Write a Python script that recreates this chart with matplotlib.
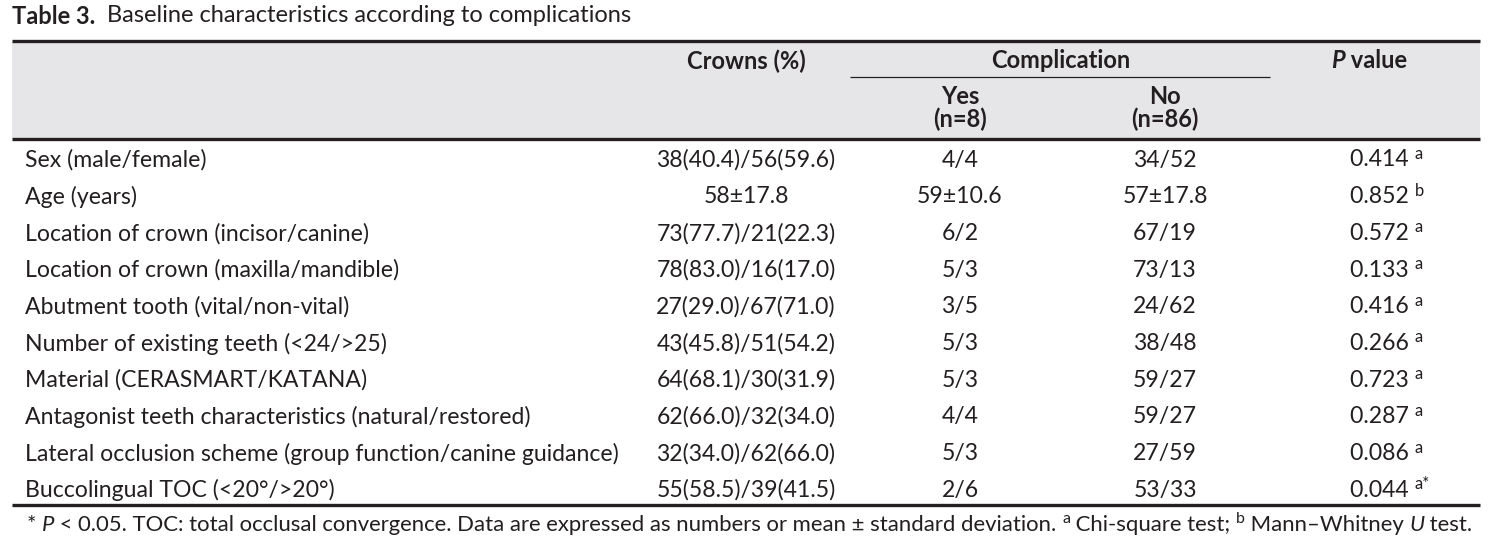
import matplotlib.pyplot as plt

FONT = ['Lato', 'DejaVu Sans']
INK = '#231f20'

title_bold = 'Table 3.'
title_text = 'Baseline characteristics according to complications'

row_labels = [
    'Sex (male/female)',
    'Age (years)',
    'Location of crown (incisor/canine)',
    'Location of crown (maxilla/mandible)',
    'Abutment tooth (vital/non-vital)',
    'Number of existing teeth (<24/>25)',
    'Material (CERASMART/KATANA)',
    'Antagonist teeth characteristics (natural/restored)',
    'Lateral occlusion scheme (group function/canine guidance)',
    'Buccolingual TOC (<20°/>20°)',
]
crowns = ['38(40.4)/56(59.6)', '58±17.8', '73(77.7)/21(22.3)', '78(83.0)/16(17.0)',
          '27(29.0)/67(71.0)', '43(45.8)/51(54.2)', '64(68.1)/30(31.9)',
          '62(66.0)/32(34.0)', '32(34.0)/62(66.0)', '55(58.5)/39(41.5)']
comp_yes = ['4/4', '59±10.6', '6/2', '5/3', '3/5', '5/3', '5/3', '4/4', '5/3', '2/6']
comp_no = ['34/52', '57±17.8', '67/19', '73/13', '24/62', '38/48', '59/27', '59/27', '27/59', '53/33']
p_values = ['0.414', '0.852', '0.572', '0.133', '0.416', '0.266', '0.723', '0.287', '0.086', '0.044']
p_marks = ['a', 'b', 'a', 'a', 'a', 'a', 'a', 'a', 'a', 'a*']

fig = plt.figure(figsize=(15, 5.41), dpi=100)
ax = fig.add_axes([0, 0, 1, 1])
ax.set_xlim(0, 1500)
ax.set_ylim(541, 0)
ax.axis('off')
renderer = fig.canvas.get_renderer()


def width_of(s, **kw):
    t = ax.text(0, 0, s, family=FONT, **kw)
    w = t.get_window_extent(renderer).width
    t.remove()
    return w


def fit(s, target, **kw):
    return 15 * target / width_of(s, fontsize=15, **kw)


body = fit(row_labels[8], 592)
bold = fit('Complication', 140, weight='bold')


def runs(x, y, pieces, ha='left'):
    # pieces: (text, size, props, raise)
    ws = [width_of(p[0], fontsize=p[1], **p[2]) for p in pieces]
    if ha == 'center':
        x -= sum(ws) / 2
    for (s, size, props, up), w in zip(pieces, ws):
        ax.text(x, y - up, s, fontsize=size, family=FONT, color=INK,
                ha='left', va='center', **props)
        x += w


# title
tsize = fit(title_text, 527)
runs(12, 16, [(title_bold, tsize, {'weight': 'bold'}, 0),
              ('  ' + title_text, tsize, {}, 0)])

# header band and rules
ax.fill_between([12, 1480], 42, 138, color='#e6e6e8', lw=0)
ax.plot([12, 1480], [41, 41], color=INK, lw=2.4, solid_capstyle='butt')
ax.plot([12, 1480], [139, 139], color=INK, lw=2.4, solid_capstyle='butt')
ax.plot([850, 1270], [77, 77], color=INK, lw=0.9, solid_capstyle='butt')
ax.plot([12, 1480], [505, 505], color=INK, lw=2.4, solid_capstyle='butt')

hb = {'weight': 'bold'}
runs(746, 61, [('Crowns (%)', bold, hb, 0)], ha='center')
runs(1061, 61, [('Complication', bold, hb, 0)], ha='center')
runs(1369, 61, [('P', bold, {'weight': 'bold', 'style': 'italic'}, 0),
                (' value', bold, hb, 0)], ha='center')
runs(960, 96, [('Yes', bold, hb, 0)], ha='center')
runs(960, 119, [('(n=8)', bold, hb, 0)], ha='center')
runs(1165, 96, [('No', bold, hb, 0)], ha='center')
runs(1165, 119, [('(n=86)', bold, hb, 0)], ha='center')

# body rows
sup = body * 0.72
for i in range(len(row_labels)):
    y = 160 + i * 36.7
    runs(25, y, [(row_labels[i], body, {}, 0)])
    runs(746, y, [(crowns[i], body, {}, 0)], ha='center')
    runs(960, y, [(comp_yes[i], body, {}, 0)], ha='center')
    runs(1165, y, [(comp_no[i], body, {}, 0)], ha='center')
    runs(1350, y, [(p_values[i] + ' ', body, {}, 0), (p_marks[i], sup, {}, 6)])

# footnote
it = {'style': 'italic'}
foot = [('* ', body, {}, 0), ('P', body, it, 0),
        (' < 0.05. TOC: total occlusal convergence. Data are expressed as numbers or mean ± standard deviation. ', body, {}, 0),
        ('a', sup, {}, 6), (' Chi-square test; ', body, {}, 0),
        ('b', sup, {}, 6), (' Mann–Whitney ', body, {}, 0),
        ('U', body, it, 0), (' test.', body, {}, 0)]
total = sum(width_of(p[0], fontsize=p[1], **p[2]) for p in foot)
scale = 1456 / total
foot = [(s, size * scale, props, up) for s, size, props, up in foot]
runs(27, 525, foot)

fig.savefig('out.png', dpi=100, facecolor='white')
